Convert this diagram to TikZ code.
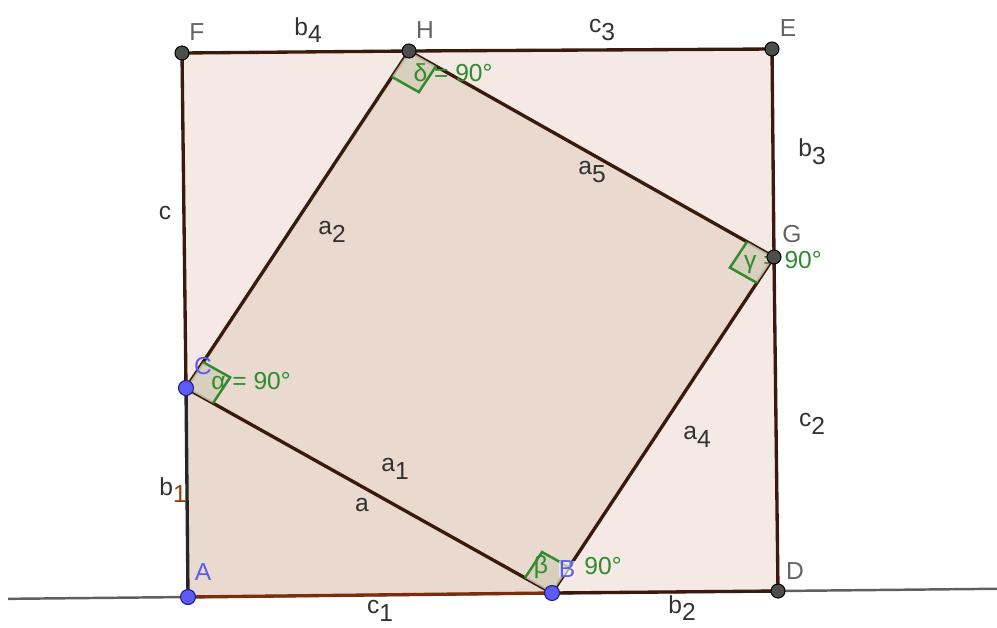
\documentclass[tikz,border=0pt]{standalone}
\usepackage{fontspec}
\setmainfont{Liberation Sans}
\usepackage{xcolor}
\usepackage{tikz}
\usetikzlibrary{calc}
\definecolor{edgebrown}{RGB}{58,26,12}
\definecolor{edgeorange}{RGB}{122,46,14}
\definecolor{outerfill}{RGB}{244,233,228}
\definecolor{innerfill}{RGB}{234,217,207}
\definecolor{anglegreen}{RGB}{46,139,46}
\definecolor{anglefill}{RGB}{214,206,186}
\definecolor{ptblue}{RGB}{92,92,245}
\definecolor{ptbluedark}{RGB}{30,30,120}
\definecolor{ptgray}{RGB}{77,77,77}
\definecolor{labelgray}{RGB}{100,100,100}
\definecolor{seggray}{RGB}{50,50,50}
\definecolor{linegray}{RGB}{95,95,95}
\newcommand{\subl}[2]{#1\raisebox{-0.6ex}{#2}}
\newcommand{\anglemark}[3]{%
    \coordinate (#1u) at ($(#1)!0.62cm!(#2)$);
    \coordinate (#1v) at ($(#1)!0.62cm!(#3)$);
    \coordinate (#1w) at ($(#1u)+(#1v)-(#1)$);
    \fill[anglefill, opacity=0.85] (#1) -- (#1u) -- (#1w) -- (#1v) -- cycle;
    \draw[anglegreen, line width=1.4pt] (#1u) -- (#1w) -- (#1v);
}

\begin{document}
\begin{tikzpicture}[
    x=0.02cm, y=-0.02cm,
    edge/.style={draw=edgebrown, line width=1.9pt, line cap=round},
    bluept/.style={circle, fill=ptblue, draw=ptbluedark, line width=0.6pt, inner sep=0pt, minimum size=0.3cm},
    graypt/.style={circle, fill=ptgray, draw=black, line width=0.6pt, inner sep=0pt, minimum size=0.28cm},
    ptlabel/.style={text=labelgray, font=\fontsize{14}{16}\selectfont, inner sep=0pt},
    bluelabel/.style={text=ptblue, font=\fontsize{14}{16}\selectfont, inner sep=0pt},
    seglabel/.style={text=seggray, font=\fontsize{14}{16}\selectfont, inner sep=0pt},
    anglelabel/.style={text=anglegreen, font=\fontsize{14}{16}\selectfont, inner sep=0pt}
]
    \useasboundingbox (0,0) rectangle (997,627);

    % points
    \coordinate (A) at (188,597);
    \coordinate (B) at (552,593);
    \coordinate (C) at (186,388);
    \coordinate (D) at (778,591);
    \coordinate (E) at (772,49);
    \coordinate (F) at (182,53);
    \coordinate (G) at (774,257);
    \coordinate (H) at (409,51);
    \coordinate (L1) at ($(A)!-0.305!(D)$);
    \coordinate (L2) at ($(A)!1.371!(D)$);

    % fills
    \fill[outerfill] (A) -- (D) -- (E) -- (F) -- cycle;
    \fill[innerfill] (C) -- (B) -- (G) -- (H) -- cycle;
    \fill[innerfill] (A) -- (B) -- (C) -- cycle;

    \draw[linegray, line width=1.4pt] (L1) -- (L2);

    % outer square
    \draw[edge] (F) -- (H) -- (E) -- (G) -- (D) -- (B);
    \draw[edge, draw=edgeorange] (B) -- (A);
    \draw[edge, draw=black!85] (A) -- (C);
    \draw[edge] (C) -- (F);
    % inner square
    \draw[edge] (C) -- (B) -- (G) -- (H) -- cycle;

    % right angles
    \anglemark{C}{H}{B}
    \anglemark{B}{C}{G}
    \anglemark{G}{B}{H}
    \anglemark{H}{G}{C}

    % segment labels
    \node[seglabel] (lb4) at (308,30) {\subl{b}{4}};
    \node[seglabel] (lc3) at (602,30) {\subl{c}{3}};
    \node[seglabel] (lb3) at (812,152) {\subl{b}{3}};
    \node[seglabel] (la5) at (592,172) {\subl{a}{5}};
    \node[seglabel] (lc) at (165,213) {c};
    \node[seglabel] (la2) at (332,232) {\subl{a}{2}};
    \node[seglabel] (lc2) at (812,424) {\subl{c}{2}};
    \node[seglabel] (la4) at (697,437) {\subl{a}{4}};
    \node[seglabel] (la1) at (395,469) {\subl{a}{1}};
    \node[seglabel] (la) at (362,505) {a};
    \node[seglabel] (lb1) at (173,490) {\subl{b}{\textcolor{edgeorange!80!orange}{1}}};
    \node[seglabel] (lc1) at (380,611) {\subl{c}{1}};
    \node[seglabel] (lb2) at (682,608) {\subl{b}{2}};

    % angle labels
    \node[anglelabel] (lalpha) at (251,381) {α = 90°};
    \node[anglelabel] (lbeta) at (541,567) {β};
    \node[anglelabel] (lbeta90) at (603,566) {90°};
    \node[anglelabel] (lgamma) at (783,262) {γ = 90°};
    \node[anglelabel] (ldelta) at (453,73) {δ = 90°};

    % point labels
    \node[ptlabel] (lF) at (197,32) {F};
    \node[ptlabel] (lH) at (425,30) {H};
    \node[ptlabel] (lE) at (788,28) {E};
    \node[ptlabel] (lG) at (792,234) {G};
    \node[ptlabel] (lD) at (795,571) {D};
    \node[bluelabel] (lA) at (203,572) {A};
    \node[bluelabel, fill=white, fill opacity=0.6, text opacity=1] (lB) at (567,569) {B};
    \node[bluelabel] (lC) at (203,366) {C};

    % dots
    \node[bluept] (pA) at (A) {};
    \node[bluept] (pB) at (B) {};
    \node[bluept] (pC) at (C) {};
    \node[graypt] (pD) at (D) {};
    \node[graypt] (pE) at (E) {};
    \node[graypt] (pF) at (F) {};
    \node[graypt] (pG) at (G) {};
    \node[graypt] (pH) at (H) {};
\end{tikzpicture}
\end{document}
